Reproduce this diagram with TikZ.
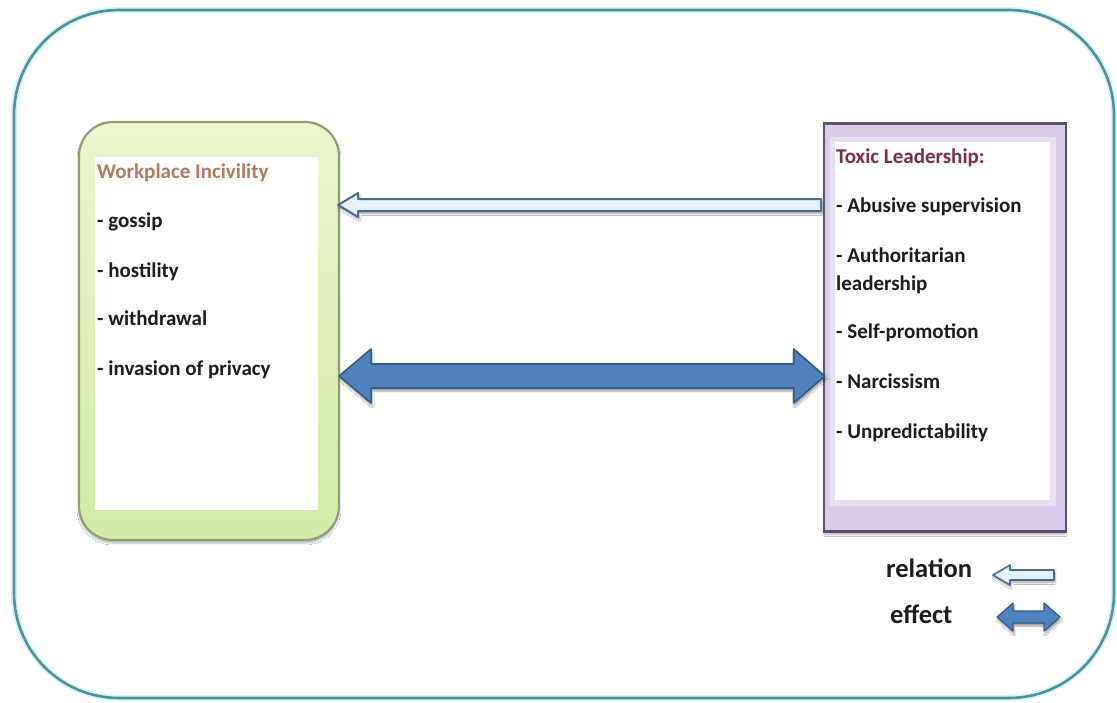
\documentclass[tikz,border=0pt]{standalone}
\usepackage{fontspec}
\setmainfont{Carlito}
\usetikzlibrary{calc,shadows.blur}
\definecolor{frameteal}{HTML}{4A9398}
\definecolor{greenedge}{HTML}{8FA070}
\definecolor{greentop}{HTML}{EAF6CF}
\definecolor{greenbot}{HTML}{D2EBA6}
\definecolor{purpleedge}{HTML}{5E4E72}
\definecolor{purplefill}{HTML}{D9CCE8}
\definecolor{incivtitle}{HTML}{B07A5E}
\definecolor{toxictitle}{HTML}{7A2C4E}
\definecolor{itemtext}{HTML}{1C1C1C}
\definecolor{relfill}{HTML}{E2F2FB}
\definecolor{reledge}{HTML}{4A6A8E}
\definecolor{efffill}{HTML}{4F81BD}
\definecolor{effedge}{HTML}{34598A}
\tikzset{
  x=1pt, y=-1pt,
  itemlabel/.style={anchor=base west, inner sep=0pt, text=itemtext,
    font=\fontsize{21}{25}\selectfont\bfseries},
  titlelabel/.style={itemlabel},
  legendlabel/.style={anchor=base west, inner sep=0pt, text=itemtext,
    font=\fontsize{26.5}{30}\selectfont\bfseries},
  relarrow/.style={draw=reledge, line width=2pt, fill=relfill, line join=round,
    blur shadow={shadow xshift=1pt, shadow yshift=-2.5pt, shadow blur steps=6, shadow opacity=35}},
  effarrow/.style={draw=effedge, line width=1.6pt, fill=efffill, line join=round,
    blur shadow={shadow xshift=1pt, shadow yshift=-3pt, shadow blur steps=6, shadow opacity=40}},
}
\begin{document}
\begin{tikzpicture}
\useasboundingbox (0,0) rectangle (1117,702);
\fill[white] (0,0) rectangle (1117,702);

% outer frame
\draw[cyan!15, line width=6pt, rounded corners=105pt] (14,10) rectangle (1114,698);
\draw[frameteal, line width=2.6pt, rounded corners=105pt] (14,10) rectangle (1114,698);

% workplace incivility box
\node[draw=greenedge, line width=2.2pt, rounded corners=34pt,
  top color=greentop, bottom color=greenbot,
  blur shadow={shadow xshift=0pt, shadow yshift=-3pt, shadow blur steps=8, shadow opacity=30},
  minimum width=260pt, minimum height=418pt, inner sep=0pt]
  (incbox) at (209,331) {};
\fill[white] (95,157) rectangle (318,510);

% toxic leadership box
\node[draw=purpleedge, line width=2.6pt, fill=purplefill,
  blur shadow={shadow xshift=0pt, shadow yshift=-3pt, shadow blur steps=8, shadow opacity=30},
  minimum width=242pt, minimum height=408pt, inner sep=0pt]
  (toxbox) at (945,327.5) {};
\fill[purplefill!60!white] (830,137) rectangle (1056,506);
\fill[white] (835,142) rectangle (1050,500);

% texts of the left box
\node[titlelabel, text=incivtitle] (inctitle) at (97,178) {Workplace Incivility};
\node[itemlabel] (inc1) at (97,227) {- gossip};
\node[itemlabel] (inc2) at (97,277) {- hostility};
\node[itemlabel] (inc3) at (97,325) {- withdrawal};
\node[itemlabel] (inc4) at (97,375) {- invasion of privacy};

% texts of the right box
\node[titlelabel, text=toxictitle] (toxtitle) at (836,163) {Toxic Leadership:};
\node[itemlabel] (tox1) at (836,212) {- Abusive supervision};
\node[itemlabel] (tox2) at (836,262) {- Authoritarian};
\node[itemlabel] (tox2b) at (836,290) {leadership};
\node[itemlabel] (tox3) at (836,338) {- Self-promotion};
\node[itemlabel] (tox4) at (836,388) {- Narcissism};
\node[itemlabel] (tox5) at (836,438) {- Unpredictability};

% relation arrow (hollow, pointing left)
\coordinate (relTip) at (incbox.east |- 0,205);
\coordinate (relTail) at (821,205);
\draw[relarrow] ($(relTip)+(-2,0)$) -- ++(20,-12) -- ++(0,6)
  -- ($(relTail)+(0,-6)$) -- ($(relTail)+(0,6)$)
  -- ($(relTip)+(18,6)$) -- ++(0,6) -- cycle;

% effect arrow (double headed)
\coordinate (effL) at (incbox.east |- 0,376);
\coordinate (effR) at (toxbox.west |- 0,376);
\draw[effarrow] ($(effL)+(-1,0)$) -- ++(32,-27) -- ++(0,15)
  -- ($(effR)+(-29,-12)$) -- ++(0,-15) -- ($(effR)+(2,0)$)
  -- ++(-31,27) -- ++(0,-15)
  -- ($(effL)+(31,12)$) -- ++(0,15) -- cycle;

% legend
\node[legendlabel] (legrel) at (886,577) {relation};
\node[legendlabel] (legeff) at (890,623) {effect};
\coordinate (lrTip) at (993,575);
\coordinate (lrTail) at (1054,575);
\draw[relarrow, line width=1.6pt] (lrTip) -- ++(17,-10) -- ++(0,5)
  -- ($(lrTail)+(0,-5)$) -- ($(lrTail)+(0,5)$)
  -- ($(lrTip)+(17,5)$) -- ++(0,5) -- cycle;
\coordinate (leL) at (997,617);
\coordinate (leR) at (1060,617);
\draw[effarrow, line width=1.2pt] (leL) -- ++(16,-14) -- ++(0,8)
  -- ($(leR)+(-16,-6)$) -- ++(0,-8) -- (leR)
  -- ++(-16,14) -- ++(0,-8)
  -- ($(leL)+(16,6)$) -- ++(0,8) -- cycle;
\end{tikzpicture}
\end{document}
